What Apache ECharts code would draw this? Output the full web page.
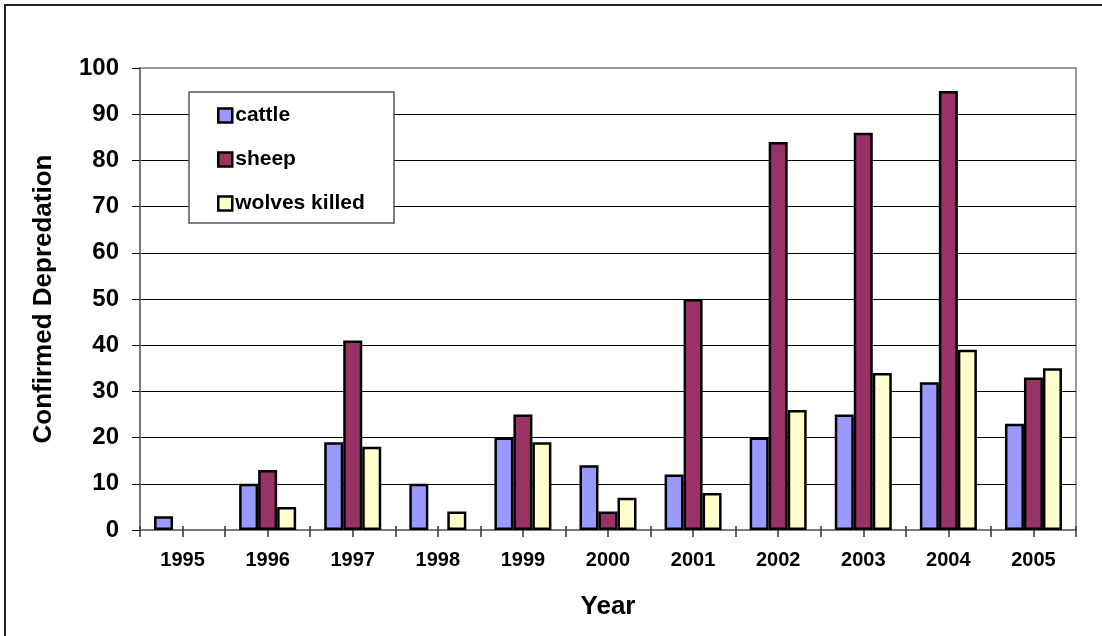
<!DOCTYPE html>
<html>
<head>
<meta charset="utf-8">
<script src="https://cdn.jsdelivr.net/npm/echarts@6/dist/echarts.min.js"></script>
<style>
  html, body { margin: 0; padding: 0; background: #fff; }
  #chart { width: 1102px; height: 636px; }
</style>
</head>
<body>
<div id="chart"></div>
<script>
  var years = ['1995', '1996', '1997', '1998', '1999', '2000', '2001', '2002', '2003', '2004', '2005'];
  var cattle = [3, 10, 19, 10, 20, 14, 12, 20, 25, 32, 23];
  var sheep = [0, 13, 41, 0, 25, 4, 50, 84, 86, 95, 33];
  var wolvesKilled = [0, 5, 18, 4, 19, 7, 8, 26, 34, 39, 35];

  // half-category ticks (Excel draws ticks at centers and boundaries here)
  var halfTicks = [];
  for (var i = 0; i < years.length * 2; i++) {
    halfTicks.push('t' + i);
  }

  var font = "'Liberation Sans', Arial, sans-serif";
  var myChart = echarts.init(document.getElementById('chart'));

  function barSeries(name, data, color) {
    return {
      name: name,
      type: 'bar',
      xAxisIndex: 0,
      // zero bars: no outline, like the original
      data: data.map(function (v) {
        return v === 0 ? { value: 0, itemStyle: { borderWidth: 0 } } : v;
      }),
      barGap: '0%',
      barCategoryGap: '33%',
      itemStyle: {
        color: color,
        borderColor: '#000',
        borderWidth: 2.5
      }
    };
  }

  myChart.setOption({
    animation: false,
    textStyle: { fontFamily: font },
    grid: {
      left: 140,
      right: 26,
      top: 68,
      bottom: 106,
      show: true,
      borderColor: '#9a9a9a',
      borderWidth: 2
    },
    graphic: [
      {
        type: 'rect',
        shape: { x: 5, y: 5, width: 1200, height: 700 },
        style: { fill: 'none', stroke: '#222', lineWidth: 2 },
        silent: true
      },
      {
        type: 'rect',
        z: 5,
        shape: { x: 189, y: 92, width: 205, height: 131 },
        style: { fill: '#fff', stroke: '#555', lineWidth: 1.5 },
        silent: true
      }
    ],
    legend: {
      orient: 'vertical',
      left: 217,
      top: 105,
      padding: 0,
      z: 10,
      itemWidth: 14,
      itemHeight: 14,
      itemGap: 23,
      icon: 'rect',
      itemStyle: { borderColor: '#000', borderWidth: 2.5 },
      textStyle: {
        fontFamily: font,
        fontSize: 21,
        fontWeight: 'bold',
        color: '#000',
        lineHeight: 20,
        padding: [0, 0, 0, -2]
      },
      data: ['cattle', 'sheep', 'wolves killed']
    },
    xAxis: [
      {
        type: 'category',
        data: years,
        name: 'Year',
        nameLocation: 'middle',
        nameGap: 64,
        nameTextStyle: { fontSize: 26, fontWeight: 'bold', color: '#000' },
        axisLine: { lineStyle: { color: '#7a7a7a', width: 2 } },
        axisTick: { show: false },
        axisLabel: { margin: 20, fontSize: 20, fontWeight: 'bold', color: '#000' }
      },
      {
        type: 'category',
        data: halfTicks,
        position: 'bottom',
        axisLine: { show: false },
        axisTick: { show: true, length: 7, lineStyle: { color: '#333', width: 1.5 } },
        axisLabel: { show: false }
      },
      {
        type: 'category',
        data: halfTicks,
        position: 'bottom',
        axisLine: { show: false },
        axisTick: { show: true, inside: true, length: 4, lineStyle: { color: '#333', width: 1.5 } },
        axisLabel: { show: false }
      }
    ],
    yAxis: {
      type: 'value',
      min: 0,
      max: 100,
      interval: 10,
      name: 'Confirmed Depredation',
      nameLocation: 'middle',
      nameGap: 83,
      nameTextStyle: { fontSize: 26, fontWeight: 'bold', color: '#000' },
      axisLine: { show: true, lineStyle: { color: '#7a7a7a', width: 2 } },
      axisTick: { show: true, length: 8, lineStyle: { color: '#000' } },
      axisLabel: { margin: 21, fontSize: 24, fontWeight: 'bold', color: '#000' },
      splitLine: { show: true, showMaxLine: false, lineStyle: { color: '#000', width: 1 } }
    },
    series: [
      barSeries('cattle', cattle, '#9999ff'),
      barSeries('sheep', sheep, '#993366'),
      barSeries('wolves killed', wolvesKilled, '#ffffcc')
    ]
  });
</script>
</body>
</html>
